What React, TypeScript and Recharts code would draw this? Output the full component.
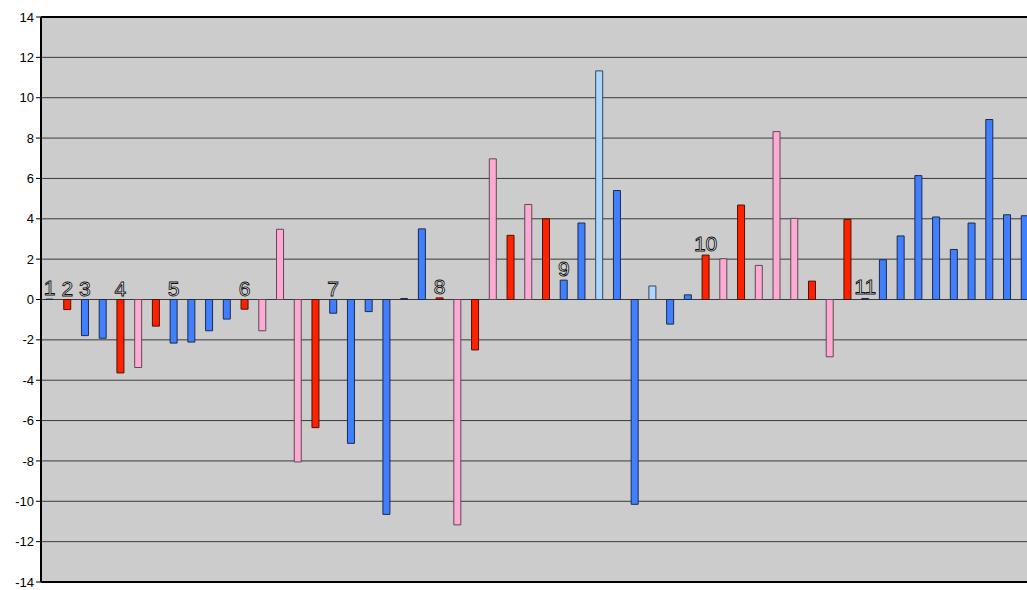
import React from 'react';
import {
  BarChart,
  Bar,
  XAxis,
  YAxis,
  CartesianGrid,
  Cell,
  LabelList,
  ReferenceLine,
} from 'recharts';

// one slot per bar, left to right
const categories = Array.from({ length: 56 }, (_, i) => `c${i + 1}`);

const values = [
  0.02, -0.5, -1.79, -1.92, -3.64, -3.37, -1.32, -2.16, -2.11, -1.55,
  -0.97, -0.48, -1.55, 3.48, -8.05, -6.35, -0.68, -7.13, -0.6, -10.65,
  0.05, 3.5, 0.08, -11.17, -2.5, 6.97, 3.18, 4.71, 4.0, 0.96,
  3.79, 11.33, 5.4, -10.15, 0.67, -1.22, 0.23, 2.2, 2.02, 4.68,
  1.69, 8.32, 4.02, 0.91, -2.84, 3.97, 0.05, 1.97, 3.15, 6.14,
  4.09, 2.48, 3.79, 8.92, 4.2, 4.15,
];

// b = blue, r = red, p = pink, l = light blue
const kinds = [
  'b', 'r', 'b', 'b', 'r', 'p', 'r', 'b', 'b', 'b',
  'b', 'r', 'p', 'p', 'p', 'r', 'b', 'b', 'b', 'b',
  'b', 'b', 'r', 'p', 'r', 'p', 'r', 'p', 'r', 'b',
  'b', 'l', 'b', 'b', 'l', 'b', 'b', 'r', 'p', 'r',
  'p', 'p', 'p', 'r', 'p', 'r', 'b', 'b', 'b', 'b',
  'b', 'b', 'b', 'b', 'b', 'b',
];

const marks = [
  '1', '2', '3', '', '4', '', '', '5', '', '',
  '', '6', '', '', '', '', '7', '', '', '',
  '', '', '8', '', '', '', '', '', '', '9',
  '', '', '', '', '', '', '', '10', '', '',
  '', '', '', '', '', '', '11', '', '', '',
  '', '', '', '', '', '',
];

const yTicks = [-14, -12, -10, -8, -6, -4, -2, 0, 2, 4, 6, 8, 10, 12, 14];

const FILL: Record<string, string> = {
  b: '#4080FF',
  r: '#FF2200',
  p: '#FFAAD4',
  l: '#AAD6FF',
};
const EDGE: Record<string, string> = {
  b: '#1c2a50',
  r: '#4a1208',
  p: '#5a4a52',
  l: '#3a4452',
};

const data = categories.map((name, i) => ({
  name,
  value: values[i],
  mark: marks[i],
}));

const MarkLabel = (props: any) => {
  const { x, y, width, height, value } = props;
  if (!value) return null;
  const top = Math.min(Number(y), Number(y) + Number(height));
  return (
    <text
      x={Number(x) + Number(width) / 2}
      y={top - 4}
      textAnchor="middle"
      fontFamily="Liberation Sans, Arial, sans-serif"
      fontSize={21}
      fill="#ffffff"
      stroke="#111"
      strokeWidth={0.9}
    >
      {value}
    </text>
  );
};

export default function App() {
  return (
    <div
      style={{
        position: 'fixed',
        left: 0,
        top: 0,
        width: 1027,
        height: 590,
        overflow: 'hidden',
        background: '#fff',
      }}
    >
      <BarChart
        width={1040}
        height={590}
        data={data}
        margin={{ top: 17, right: 6, bottom: 8, left: 0 }}
        barSize={7}
      >
        <CartesianGrid vertical={false} fill="#CCCCCC" stroke="#3a3a3a" />
        <XAxis dataKey="name" hide />
        <YAxis
          width={41}
          domain={[-14, 14]}
          ticks={yTicks}
          interval={0}
          tickSize={5}
          tickLine={{ stroke: '#000' }}
          axisLine={{ stroke: '#000', strokeWidth: 2 }}
          tick={{ fill: '#000', fontSize: 13, fontFamily: 'Liberation Sans, Arial, sans-serif' }}
        />
        <ReferenceLine y={14} stroke="#000" strokeWidth={2} />
        <ReferenceLine y={-14} stroke="#000" strokeWidth={2} />
        <Bar dataKey="value" isAnimationActive={false} strokeWidth={1}>
          {data.map((_, i) => (
            <Cell key={`cell-${i}`} fill={FILL[kinds[i]]} stroke={EDGE[kinds[i]]} />
          ))}
          <LabelList dataKey="mark" content={MarkLabel} />
        </Bar>
      </BarChart>
    </div>
  );
}
